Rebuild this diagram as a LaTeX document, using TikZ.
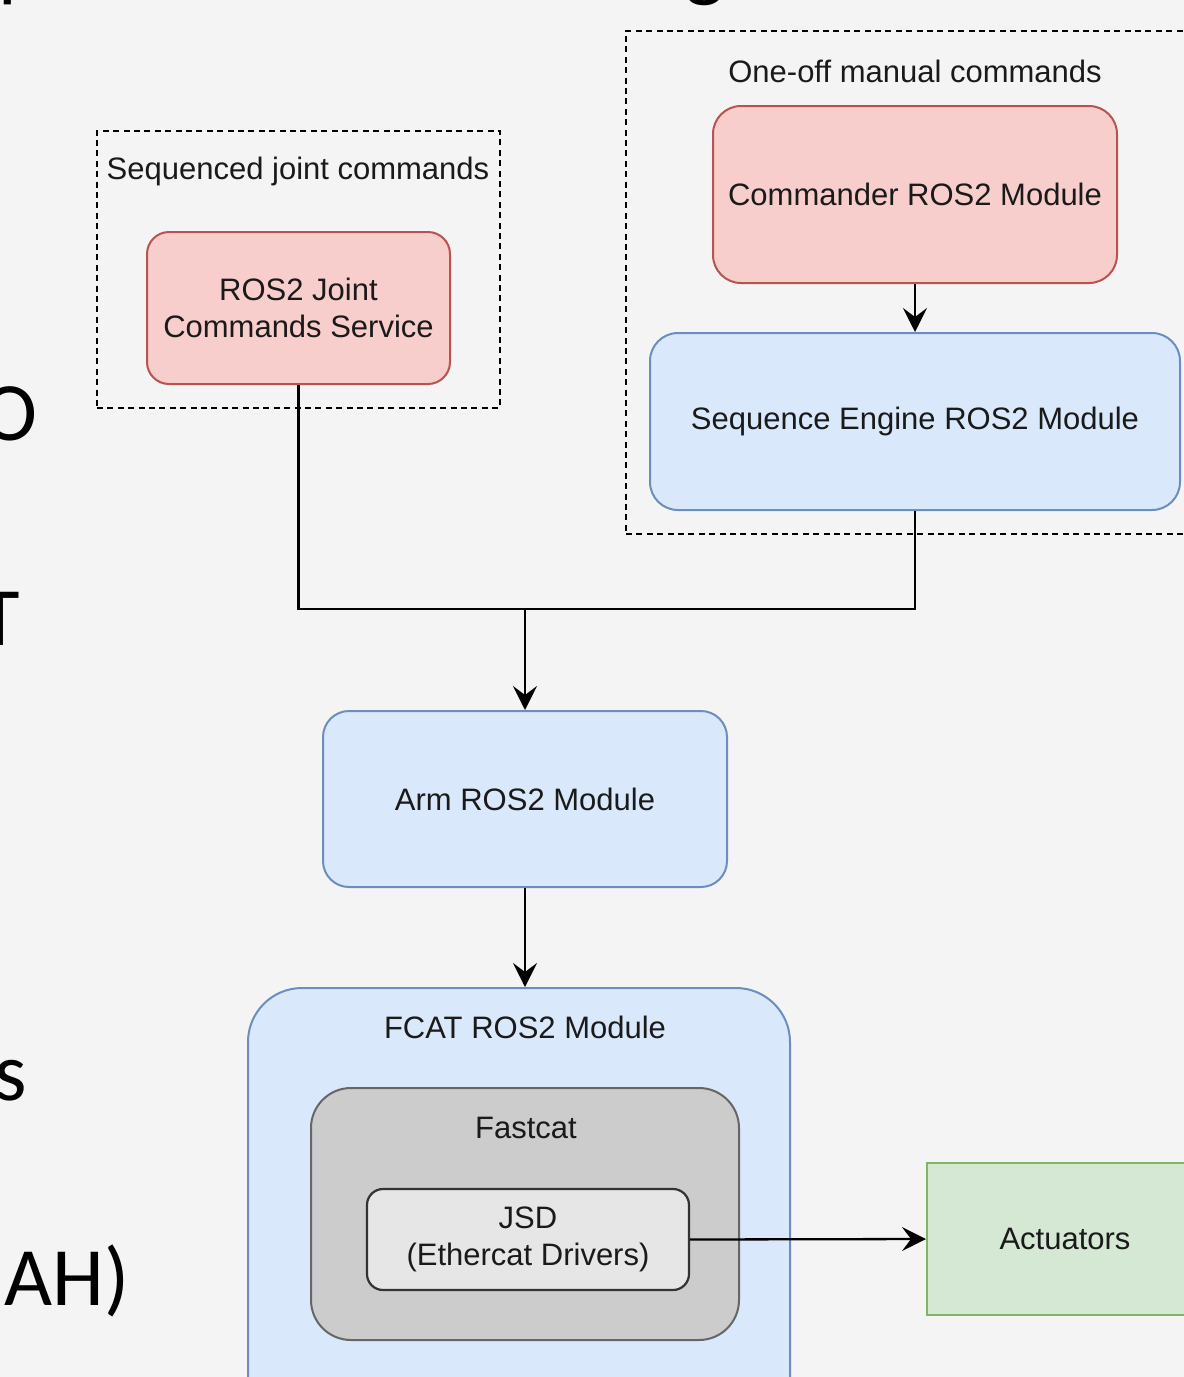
\documentclass[tikz,border=0pt]{standalone}
\usepackage{fontspec}
\setmainfont{Liberation Sans}
\newfontfamily\slidefont{Carlito}
\usetikzlibrary{arrows.meta}
\definecolor{bg}{HTML}{F4F4F4}
\definecolor{redfill}{HTML}{F8CECC}
\definecolor{redline}{HTML}{B85450}
\definecolor{bluefill}{HTML}{DAE8FC}
\definecolor{blueline}{HTML}{6C8EBF}
\definecolor{greenfill}{HTML}{D5E8D4}
\definecolor{greenline}{HTML}{82B366}
\definecolor{grayfill}{HTML}{CCCCCC}
\definecolor{grayline}{HTML}{666666}
\definecolor{lightfill}{HTML}{E6E6E6}
\definecolor{txt}{HTML}{1A1A1A}
\tikzset{
  mod/.style={draw, line width=1pt, inner sep=0pt, text=txt, align=center,
    font=\fontsize{15.5}{18.5}\selectfont},
  redmod/.style={mod, fill=redfill, draw=redline, rounded corners=13pt},
  bluemod/.style={mod, fill=bluefill, draw=blueline},
  grp/.style={draw=black, line width=0.9pt, dash pattern=on 3pt off 2.2pt, inner sep=0pt},
  lbl/.style={text=txt, font=\fontsize{15.5}{18.5}\selectfont, inner sep=0pt},
  conn/.style={draw=black, line width=1.15pt},
  arr/.style={conn, -{Stealth[length=12pt,width=12pt,inset=4.5pt]}},
  slide/.style={font=\slidefont\fontsize{41.5}{48}\selectfont, inner sep=0pt, text=black}
}
\begin{document}
\begin{tikzpicture}[x=0.5pt,y=-0.5pt]
\useasboundingbox (0,0) rectangle (1184,1377);
\clip (0,0) rectangle (1184,1377);
\fill[bg] (0,0) rectangle (1184,1377);

% cut-off slide text
\node[slide, anchor=base] (sp) at (20,-9) {p};
\node[slide, anchor=base] (sg) at (705,-9) {g};
\node[slide, anchor=base east] (so) at (38,440) {O};
\node[slide, anchor=base east] (st) at (20,645) {T};
\node[slide, anchor=base east] (ss) at (27,1100) {s};
\node[slide, anchor=base east] (sah) at (130,1305) {AH)};

% groups
\node[grp, minimum width=201.5pt, minimum height=138.5pt] (g1) at (298.5,269.5) {};
\node[lbl] (g1l) at (298,171) {Sequenced joint commands};
\node[grp, minimum width=289pt, minimum height=251.5pt] (g2) at (915,282.5) {};
\node[lbl] (g2l) at (915,71) {One-off manual commands};

% modules
\node[redmod, rounded corners=11pt, minimum width=151.5pt, minimum height=76pt] (joint) at (298.5,308) {ROS2 Joint\\Commands Service};
\node[redmod, rounded corners=14pt, minimum width=202pt, minimum height=88.5pt] (cmd) at (915,194.5) {Commander ROS2 Module};
\node[bluemod, rounded corners=14pt, minimum width=265pt, minimum height=88.5pt] (seq) at (915,421.5) {Sequence Engine ROS2 Module};
\node[bluemod, rounded corners=13pt, minimum width=202pt, minimum height=88pt] (arm) at (525,799) {Arm ROS2 Module};
\node[bluemod, rounded corners=27pt, minimum width=271pt, minimum height=230pt] (fcat) at (519,1218) {};
\node[lbl] (fcatl) at (525,1027) {FCAT ROS2 Module};
\node[mod, fill=grayfill, draw=grayline, rounded corners=20pt, minimum width=214pt, minimum height=126pt] (fast) at (525,1214) {};
\node[lbl] (fastl) at (526,1128) {Fastcat};
\node[mod, fill=lightfill, draw=black!80, line width=1.1pt, rounded corners=8pt, minimum width=161pt, minimum height=50.5pt] (jsd) at (528,1239.5) {JSD\\(Ethercat Drivers)};
\node[mod, fill=greenfill, draw=greenline, minimum width=138pt, minimum height=76pt] (act) at (1065,1239) {Actuators};

% connectors
\coordinate (j) at (525,609);
\draw[arr] (cmd.south) -- (seq.north);
\draw[conn] (joint.south) |- (j) -| (seq.south);
\draw[arr] (j) -- (arm.north);
\draw[arr] (arm.south) -- (fcat.north -| arm.south);
\draw[arr] (jsd.east) -- (act.west);
\end{tikzpicture}
\end{document}
